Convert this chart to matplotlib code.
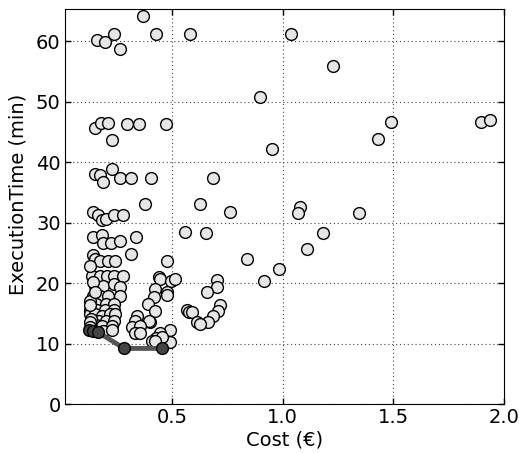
import numpy as np
import matplotlib
matplotlib.use("Agg")
import matplotlib.pyplot as plt

# cost (EUR) and execution time (min) for every configuration
cost = [0.370, 0.159, 0.197, 0.238, 0.265, 0.429, 0.582, 1.038, 1.227, 0.895,
        0.151, 0.180, 0.212, 0.298, 0.351, 0.470, 0.226,
        1.488, 1.894, 1.935, 1.429, 0.950,
        0.151, 0.174, 0.226, 0.189, 0.265, 0.312, 0.405, 0.685,
        0.379, 0.624, 1.076, 1.068, 1.345, 0.760,
        0.144, 0.166, 0.182, 0.200, 0.239, 0.280,
        0.560, 0.654, 1.182, 1.110,
        0.144, 0.182, 0.189, 0.224, 0.262, 0.336, 0.315,
        0.144, 0.150, 0.174, 0.212, 0.242, 0.477, 0.838, 0.982, 0.914,
        0.701, 0.701, 0.659,
        0.136, 0.174, 0.205, 0.235, 0.280,
        0.439, 0.447, 0.495, 0.515,
        0.423, 0.477, 0.477, 0.416, 0.389, 0.424, 0.401,
        0.568, 0.575, 0.591, 0.716, 0.709, 0.686, 0.664, 0.614, 0.624,
        0.489, 0.447, 0.429, 0.489, 0.455, 0.409, 0.424,
        0.151, 0.189, 0.235, 0.265,
        0.144, 0.174, 0.212, 0.262,
        0.136, 0.156, 0.200, 0.237,
        0.128, 0.158, 0.195, 0.237,
        0.128, 0.151, 0.182, 0.220, 0.242,
        0.341, 0.394, 0.333, 0.318, 0.356, 0.333, 0.356,
        0.140, 0.170, 0.200, 0.235,
        0.156, 0.185, 0.230,
        0.144, 0.189, 0.230,
        0.130, 0.130, 0.130, 0.132, 0.130, 0.130, 0.140, 0.150]
exec_time = [64.2, 60.2, 59.9, 61.2, 58.7, 61.2, 61.2, 61.2, 55.9, 50.7,
             45.6, 46.5, 46.4, 46.3, 46.3, 46.3, 43.7,
             46.6, 46.6, 46.9, 43.9, 42.1,
             38.1, 37.8, 38.9, 36.7, 37.4, 37.4, 37.4, 37.4,
             33.1, 33.0, 32.5, 31.6, 31.6, 31.7,
             31.7, 31.3, 30.5, 30.6, 31.2, 31.2,
             28.5, 28.2, 28.2, 25.7,
             27.6, 27.9, 26.7, 26.7, 27.0, 27.7, 24.8,
             24.7, 24.0, 23.6, 23.6, 23.6, 23.6, 24.0, 22.4, 20.3,
             20.5, 19.3, 18.5,
             21.2, 21.2, 21.2, 21.2, 21.2,
             21.0, 20.7, 20.4, 20.7,
             19.1, 18.5, 18.1, 17.7, 16.5, 15.4, 13.5,
             15.5, 15.3, 15.3, 16.3, 15.4, 14.5, 13.6, 13.5, 13.3,
             12.2, 11.8, 11.0, 10.3, 11.1, 10.4, 10.4,
             19.6, 19.6, 19.9, 19.3,
             17.9, 17.9, 17.9, 17.9,
             16.6, 16.6, 16.6, 16.6,
             15.6, 15.6, 15.6, 15.6,
             14.9, 14.9, 14.6, 14.9, 14.9,
             14.6, 13.8, 13.8, 12.7, 12.9, 11.8, 11.8,
             13.8, 13.8, 13.8, 13.8,
             13.1, 12.9, 12.9,
             12.2, 12.1, 12.3,
             22.9, 17.1, 16.3, 14.1, 13.5, 12.7, 20.2, 18.6]

# pareto front
pareto_cost = [0.125, 0.140, 0.164, 0.283, 0.453]
pareto_time = [12.3, 12.1, 11.9, 9.2, 9.2]

fs = 14
fig = plt.figure(figsize=(5.19, 4.53), dpi=100)
ax = fig.add_axes((0.125, 0.108, 0.846, 0.872))

ax.scatter(cost, exec_time, s=72, facecolor='#e6e6e6', edgecolor='black',
           linewidth=1.0, zorder=3)
ax.plot(pareto_cost, pareto_time, color='#555555', linewidth=3.5,
        marker='o', markersize=8.5, markerfacecolor='#444444',
        markeredgecolor='black', markeredgewidth=1.0, zorder=4)

ax.set_xlim(0.015, 2.0)
ax.set_ylim(0, 65.3)
ax.set_xticks([0.5, 1.0, 1.5, 2.0])
ax.set_yticks(np.arange(0, 61, 10))
ax.grid(True, linestyle=(0, (1, 2.5)), color='#444444', linewidth=0.8)
ax.set_axisbelow(True)

ax.tick_params(direction='in', top=True, right=True, length=4, width=1,
               labelsize=fs, pad=3)
ax.set_xlabel('Cost (€)', fontsize=fs, labelpad=2)
ax.set_ylabel('ExecutionTime (min)', fontsize=fs)
ax.yaxis.set_label_coords(-0.084, 0.53)

fig.savefig('out.png', dpi=100)
